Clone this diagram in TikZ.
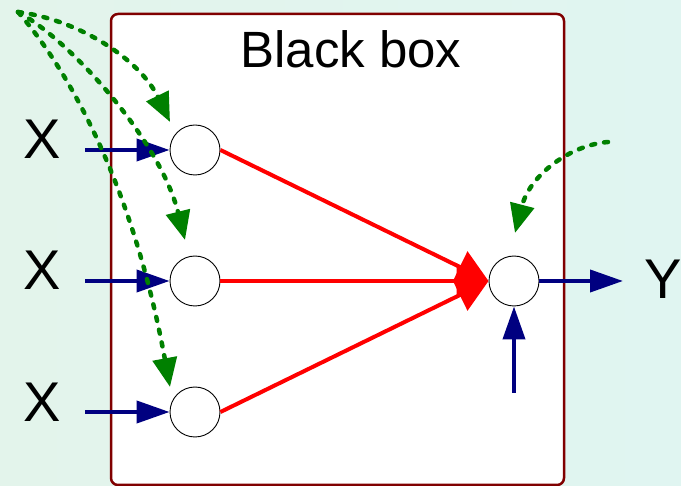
\documentclass[tikz,border=0pt]{standalone}
\usepackage{fontspec}
\setmainfont{Liberation Sans}
\usepackage{tikz}
\usetikzlibrary{arrows.meta}
\usetikzlibrary{positioning}
\definecolor{bgmintl}{RGB}{227,244,235}
\definecolor{bgmintr}{RGB}{224,245,241}
\definecolor{frame}{RGB}{128,0,0}
\definecolor{wire}{RGB}{0,0,128}
\definecolor{hint}{RGB}{0,128,0}
\tikzstyle{neuron}=[circle, draw=black, line width=0.9pt, fill=white, minimum size=50pt, inner sep=0pt]
\tikzstyle{signal}=[draw=wire, line width=4pt, -{Triangle[length=33pt, width=22pt]}]
\tikzstyle{weight}=[draw=red, line width=4pt, -{Triangle[length=32pt, width=34pt]}]
\tikzstyle{tuning}=[draw=hint, line width=4.5pt, line cap=round, dash pattern=on 4pt off 9pt, -{Triangle[length=29pt, width=24pt]}]
\tikzstyle{bigtext}=[font=\fontsize{56pt}{60pt}\selectfont, inner sep=0pt]

\begin{document}
\begin{tikzpicture}[x=1pt, y=-1pt]
              \useasboundingbox (0,0) rectangle (681,486);
              \shade[left color=bgmintl, right color=bgmintr] (0,0) rectangle (681,486);
              % the box itself
              \draw[frame, line width=2.5pt, fill=white, rounded corners=7pt] (111,14) rectangle (564,485);
              \node[font=\fontsize{51pt}{55pt}\selectfont, inner sep=0pt] (title) at (351,49) {Black box};
              % units
              \node[neuron] (in1) at (195,150){};
              \node[neuron] (in2) at (195,281){};
              \node[neuron] (in3) at (195,412){};
              \node[neuron] (out) at (514,281){};
              % labels outside
              \node[bigtext] (x1) at (42,139){X};
              \node[bigtext] (x2) at (42,270){X};
              \node[bigtext] (x3) at (42,402){X};
              \node[bigtext] (y) at (663,279){Y};
              \coordinate (src1) at (85,150);
              \coordinate (src2) at (85,281);
              \coordinate (src3) at (85,412);
              \coordinate (dst) at (623,281);
              \coordinate (bias) at (514,393);
              \draw[signal] (src1) -- (in1);
              \draw[signal] (src2) -- (in2);
              \draw[signal] (src3) -- (in3);
              \draw[signal] (out) -- (dst);
              \draw[signal] (bias) -- (out);
              % weighted links
              \draw[weight] (in1.east) -- (out.west);
              \draw[weight] (in2.east) -- (out.west);
              \draw[weight] (in3.east) -- (out.west);
              % tuning hints
              \coordinate (ctl) at (18,12);
              \coordinate (ctr) at (608,142);
              \coordinate (tip1) at (170,122);
              \coordinate (tip2) at (185,240);
              \coordinate (tip3) at (170,387);
              \coordinate (tip4) at (515,233);
              \draw[tuning] (ctl) .. controls (80,20) and (140,60) .. (tip1);
              \draw[tuning] (ctl) .. controls (70,40) and (160,140) .. (tip2);
              \draw[tuning] (ctl) .. controls (60,60) and (130,170) .. (tip3);
              \draw[tuning] (ctr) .. controls (570,145) and (530,175) .. (tip4);
            \end{tikzpicture}
\end{document}
